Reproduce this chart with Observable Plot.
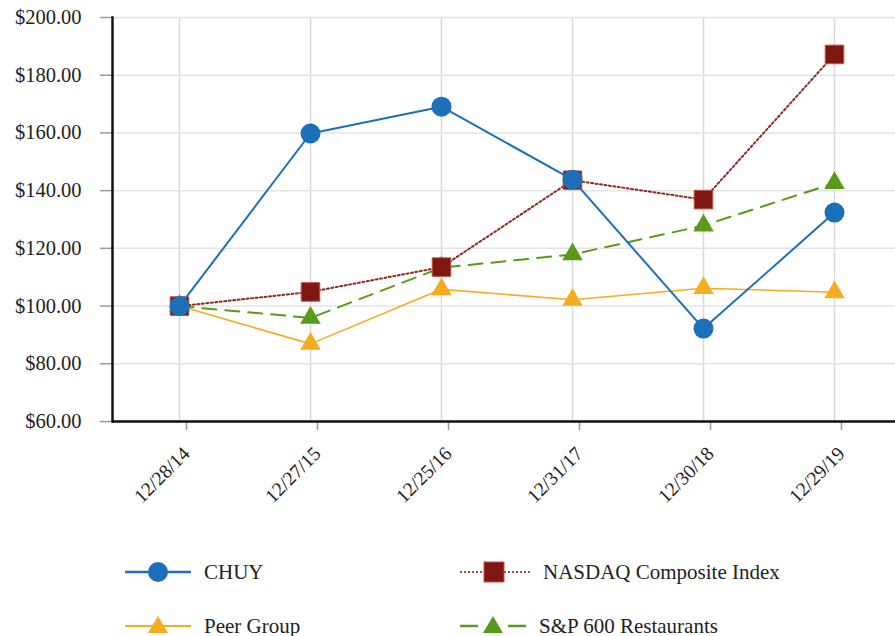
<!DOCTYPE html>
<html>
<head>
<meta charset="utf-8">
<script src="https://cdn.jsdelivr.net/npm/d3@7"></script>
<script src="https://cdn.jsdelivr.net/npm/@observablehq/plot@0.6"></script>
<style>
  html, body { margin: 0; padding: 0; background: #fff; }
  #wrap { position: relative; width: 895px; height: 636px; overflow: hidden; }
  .leg { position: absolute; display: flex; align-items: center; font-size: 21px; color: #222; white-space: nowrap; font-family: "Liberation Serif", "DejaVu Serif", "Times New Roman", Times, serif; }
  .leg svg { display: block; margin-right: 13px; }
  #wrap svg text { font-family: "Liberation Serif", "DejaVu Serif", "Times New Roman", Times, serif; }
</style>
</head>
<body>
<div id="wrap"></div>
<script>
const dates = ["12/28/14", "12/27/15", "12/25/16", "12/31/17", "12/30/18", "12/29/19"];
const chuy   = [100, 159.8, 169.1, 143.8, 92.2, 132.4];
const nasdaq = [100, 104.9, 113.5, 143.6, 136.9, 187.2];
const peer   = [100, 86.9, 105.8, 102.2, 106.2, 104.8];
const sp600  = [100, 95.9, 113.3, 117.9, 127.9, 142.6];
const yTicks = [60, 80, 100, 120, 140, 160, 180, 200];
const seriesNames = ["CHUY", "NASDAQ Composite Index", "Peer Group", "S&P 600 Restaurants"];

const colors = {
  "CHUY": "#1c6fb9",
  "NASDAQ Composite Index": "#7d1710",
  "Peer Group": "#f5ad1f",
  "S&P 600 Restaurants": "#5a9a1a"
};

const rows = (vals) => dates.map((d, i) => ({date: d, value: vals[i]}));
const dChuy = rows(chuy), dNas = rows(nasdaq), dPeer = rows(peer), dSp = rows(sp600);

const chart = Plot.plot({
  width: 895,
  height: 530,
  marginLeft: 112,
  marginRight: -5,
  marginTop: 17,
  marginBottom: 109,
  x: {type: "point", domain: dates, padding: 0.5, label: null},
  y: {domain: [60, 200], label: null},
  style: {fontSize: "20px", color: "#222", background: "#fff", overflow: "hidden"},
  marks: [
    Plot.gridX(dates, {stroke: "#d9d9d9", strokeOpacity: 1, strokeWidth: 1.5}),
    Plot.gridY(yTicks, {stroke: "#e3e3e3", strokeOpacity: 1, strokeWidth: 1.5}),
    Plot.axisY(yTicks, {label: null, fontSize: 20.5, tickFormat: d => "$" + d.toFixed(2), tickSize: 12, tickPadding: 19, stroke: "#9a9a9a", strokeWidth: 1.5, fill: "#222"}),
    Plot.axisX(dates, {label: null, fontSize: 19.5, tickSize: 9, tickPadding: 20, dx: 7, tickRotate: -45, stroke: "#9a9a9a", strokeWidth: 1.5, fill: "#222"}),
    // Peer group
    Plot.line(dPeer, {x: "date", y: "value", stroke: colors["Peer Group"], strokeWidth: 1.6}),
    Plot.dot(dPeer, {x: "date", y: "value", symbol: "triangle", r: 7.6, fill: colors["Peer Group"], stroke: "none"}),
    // S&P 600
    Plot.line(dSp, {x: "date", y: "value", stroke: colors["S&P 600 Restaurants"], strokeWidth: 2, strokeDasharray: "14,9"}),
    Plot.dot(dSp, {x: "date", y: "value", symbol: "triangle", r: 7.6, fill: colors["S&P 600 Restaurants"], stroke: "none"}),
    // NASDAQ
    Plot.line(dNas, {x: "date", y: "value", stroke: "#8e2a22", strokeWidth: 2, strokeDasharray: "2,2.5"}),
    Plot.dot(dNas, {x: "date", y: "value", symbol: "square", r: 10.5, fill: colors["NASDAQ Composite Index"], stroke: "#c2544c", strokeWidth: 1}),
    // CHUY
    Plot.line(dChuy, {x: "date", y: "value", stroke: colors["CHUY"], strokeWidth: 2}),
    Plot.dot(dChuy, {x: "date", y: "value", symbol: "circle", r: 10, fill: colors["CHUY"], stroke: "none"}),
    // axis lines
    Plot.ruleY([60], {stroke: "#111", strokeWidth: 2.5}),
    Plot.frame({anchor: "left", stroke: "#111", strokeWidth: 2.5})
  ]
});

const wrap = document.getElementById("wrap");
chart.style.position = "absolute";
chart.style.left = "0px";
chart.style.top = "0px";
wrap.appendChild(chart);

// Legend (HTML)
function legendItem(name, left, cy, sym, dash, lw) {
  const c = colors[name];
  const div = document.createElement("div");
  div.className = "leg";
  div.style.left = left + "px";
  div.style.top = (cy - 14) + "px";
  div.style.height = "28px";
  let shape = "";
  if (sym === "circle") shape = `<circle cx="33" cy="14" r="10" fill="${c}"/>`;
  if (sym === "square") shape = `<rect x="24" y="4" width="20" height="20" fill="${c}" stroke="#c2544c" stroke-width="1"/>`;
  if (sym === "triangle") shape = `<path d="M33,4 L43,21 L23,21 Z" fill="${c}"/>`;
  const w = sym === "square" ? 70 : 66;
  const lineColor = name === "NASDAQ Composite Index" ? "#b04a42" : c;
  div.innerHTML = `<svg width="${w}" height="28"><line x1="0" y1="14" x2="${w}" y2="14" stroke="${lineColor}" stroke-width="${lw}" ${dash ? `stroke-dasharray="${dash}"` : ""}/>${shape}</svg><span>${name}</span>`;
  wrap.appendChild(div);
}
legendItem(seriesNames[0], 125, 572, "circle", null, 2.5);
legendItem(seriesNames[1], 460, 572, "square", "2,2", 2);
legendItem(seriesNames[2], 125, 626, "triangle", null, 2);
legendItem(seriesNames[3], 460, 626, "triangle", "18,30,20", 2.5);
</script>
</body>
</html>
